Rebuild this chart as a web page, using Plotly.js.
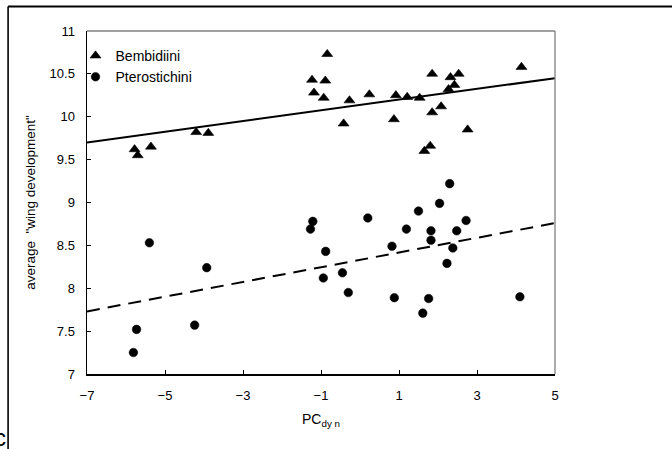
<!DOCTYPE html>
<html>
<head>
<meta charset="utf-8">
<script src="https://cdn.plot.ly/plotly-3.0.1.min.js"></script>
<style>
  html, body { margin: 0; padding: 0; background: #fff; }
  #chart { width: 672px; height: 449px; }
</style>
</head>
<body>
<div id="chart"></div>
<script>
// Bembidiini (triangles)
var bembX = [-5.78, -5.70, -5.36, -4.20, -3.89, -1.23, -1.18, -0.89, -0.93, -0.84, -0.42, -0.27, 0.24, 0.87, 0.92, 1.21, 1.53, 1.85, 1.85, 1.80, 1.65, 2.08, 2.32, 2.27, 2.42, 2.53, 2.76, 4.14];
var bembY = [9.62, 9.55, 9.65, 9.82, 9.81, 10.43, 10.28, 10.42, 10.22, 10.73, 9.92, 10.19, 10.26, 9.97, 10.25, 10.23, 10.22, 10.50, 10.05, 9.66, 9.60, 10.12, 10.46, 10.32, 10.37, 10.50, 9.85, 10.58];
// Pterostichini (circles)
var pterX = [-5.81, -5.73, -5.40, -4.24, -3.93, -1.27, -1.21, -0.88, -0.94, -0.45, -0.30, 0.20, 0.82, 0.88, 1.19, 1.50, 1.61, 1.76, 1.82, 1.82, 2.04, 2.30, 2.23, 2.38, 2.48, 2.72, 4.10];
var pterY = [7.25, 7.52, 8.53, 7.57, 8.24, 8.69, 8.78, 8.43, 8.12, 8.18, 7.95, 8.82, 8.49, 7.89, 8.69, 8.90, 7.71, 7.88, 8.67, 8.56, 8.99, 9.22, 8.29, 8.47, 8.67, 8.79, 7.90];
// Regression lines (endpoints)
var fitX = [-7, 5];
var fitBemb = [9.70, 10.45];
var fitPter = [7.73, 8.76];
// Axis ticks
var xTicks = [-7, -5, -3, -1, 1, 3, 5];
var yTicks = [7, 7.5, 8, 8.5, 9, 9.5, 10, 10.5, 11];
var yTickText = ['7', '7.5', '8', '8.5', '9', '9.5', '10', '10.5', '11'];

var FONT = 'Liberation Sans, Arial, sans-serif';

var traces = [
  {
    x: fitX, y: fitBemb, mode: 'lines', showlegend: false, hoverinfo: 'skip',
    line: { color: '#000', width: 2 }
  },
  {
    x: fitX, y: fitPter, mode: 'lines', showlegend: false, hoverinfo: 'skip',
    line: { color: '#000', width: 2, dash: '13px,8px' }
  },
  {
    x: bembX, y: bembY, mode: 'markers', name: 'Bembidiini',
    marker: { symbol: 'triangle-up', size: 9.5, color: '#000', line: { color: '#000', width: 0.6 } }
  },
  {
    x: pterX, y: pterY, mode: 'markers', name: 'Pterostichini',
    marker: { symbol: 'circle', size: 8.6, color: '#000', line: { color: '#000', width: 0.5 } }
  }
];

function px2x(px) { return (px - 86.5) / 468.5; }
function py2y(py) { return (374 - py) / 343; }

var layout = {
  width: 672, height: 449,
  margin: { l: 86.5, r: 117, t: 31, b: 75, pad: 0 },
  paper_bgcolor: '#fff', plot_bgcolor: '#fff',
  font: { family: FONT, size: 13, color: '#000' },
  showlegend: true,
  legend: {
    x: px2x(75), y: py2y(40), xanchor: 'left', yanchor: 'top',
    bgcolor: 'rgba(0,0,0,0)', borderwidth: 0,
    font: { family: FONT, size: 14, color: '#000' },
    itemwidth: 30, tracegroupgap: 0
  },
  xaxis: {
    range: [-7, 5], tickmode: 'array', tickvals: xTicks,
    showgrid: false, zeroline: false,
    showline: true, linecolor: '#000', linewidth: 1.5,
    ticks: 'inside', ticklen: 4, tickwidth: 1, tickcolor: '#000',
    tickfont: { family: FONT, size: 13 }, ticklabelstandoff: 9,
    title: { text: 'PC<sub>dy n</sub>', font: { family: FONT, size: 14 }, standoff: 12 },
    automargin: false
  },
  yaxis: {
    range: [7, 11], tickmode: 'array', tickvals: yTicks, ticktext: yTickText,
    showgrid: false, zeroline: false,
    showline: true, linecolor: '#000', linewidth: 1.5,
    ticks: 'inside', ticklen: 4, tickwidth: 1, tickcolor: '#000',
    tickfont: { family: FONT, size: 13 }, ticklabelstandoff: 8,
    title: { text: 'average  "wing development"', font: { family: FONT, size: 13.5 }, standoff: 11 },
    automargin: false
  },
  shapes: [
    // gray top and right frame of plot area
    { type: 'line', xref: 'paper', yref: 'paper', x0: 0, x1: 1, y0: 1, y1: 1, line: { color: '#808080', width: 1.3 } },
    { type: 'line', xref: 'paper', yref: 'paper', x0: 1, x1: 1, y0: 0, y1: 1, line: { color: '#808080', width: 1.3 } },
    // outer border (top and left)
    { type: 'line', xref: 'paper', yref: 'paper', x0: px2x(7.5), x1: px2x(680), y0: py2y(6.5), y1: py2y(6.5), line: { color: '#000', width: 2 } },
    { type: 'line', xref: 'paper', yref: 'paper', x0: px2x(7.5), x1: px2x(7.5), y0: py2y(6.5), y1: py2y(460), line: { color: '#000', width: 1.6 } }
  ],
  annotations: [
    { text: 'c', xref: 'paper', yref: 'paper', x: px2x(7), y: py2y(437), xanchor: 'right', yanchor: 'middle',
      showarrow: false, font: { family: FONT, size: 24, color: '#000' } }
  ]
};

Plotly.newPlot('chart', traces, layout, { displayModeBar: false, staticPlot: true });
</script>
</body>
</html>
